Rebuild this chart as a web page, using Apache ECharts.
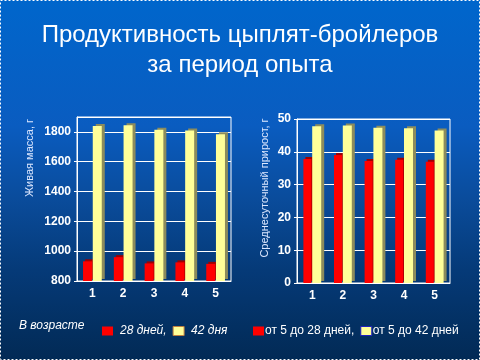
<!DOCTYPE html>
<html><head><meta charset="utf-8">
<script src="https://cdn.jsdelivr.net/npm/echarts@6/dist/echarts.min.js"></script>
<style>html,body{margin:0;padding:0;background:#0050a8}#c{width:480px;height:360px}</style>
</head><body><div id="c"></div>
<script>
var titleLines = ['Продуктивность цыплят-бройлеров', 'за период опыта'];
var groups = ['1', '2', '3', '4', '5'];
var massTicks = {min: 800, max: 1900, interval: 200};
var gainTicks = {min: 0, max: 50, interval: 10};
var mass28 = [932, 960, 918, 925, 915];
var mass42 = [1840, 1845, 1815, 1810, 1785];
var gain28 = [37.8, 39.0, 37.2, 37.6, 37.0];
var gain42 = [47.8, 48.0, 47.3, 47.2, 46.5];
var massName = 'Живая масса, г';
var gainName = 'Среднесуточный прирост, г';
var legendLead = 'В возрасте';
var leftNames = ['28 дней', '42 дня'];
var rightNames = ['от 5 до 28 дней', 'от 5 до 42 дней'];

var font = 'Arial, "Liberation Sans", sans-serif';
var RED = '#ff0000', YEL = '#ffff99';
function redStyle(){return {color: RED, shadowColor: '#a00000', shadowOffsetX: 2, shadowOffsetY: -2, shadowBlur: 0};}
function yelStyle(){return {color: YEL, shadowColor: '#8c8c5c', shadowOffsetX: 3, shadowOffsetY: -2, shadowBlur: 0};}
function plain(v){return String(v);}
var axisLab = {color: '#ffffff', fontFamily: font, fontWeight: 'bold', fontSize: 12};

var chart = echarts.init(document.getElementById('c'));
chart.setOption({
  backgroundColor: {type: 'linear', x: 0, y: 0, x2: 0, y2: 1, colorStops: [
    {offset: 0, color: '#0066cc'}, {offset: 0.35, color: '#0a5cc0'},
    {offset: 0.55, color: '#0a4c9c'}, {offset: 0.75, color: '#053a78'}, {offset: 1, color: '#022a55'}]},
  animation: false,
  title: [
    {text: titleLines[0], left: 'center', top: 18, textStyle: {color: '#ffffff', fontFamily: font, fontSize: 24, fontWeight: 'normal', textShadowColor: '#0a1a40', textShadowOffsetX: 2, textShadowOffsetY: 2, textShadowBlur: 0}},
    {text: titleLines[1], left: 'center', top: 48, textStyle: {color: '#ffffff', fontFamily: font, fontSize: 24, fontWeight: 'normal', textShadowColor: '#0a1a40', textShadowOffsetX: 2, textShadowOffsetY: 2, textShadowBlur: 0}}
  ],
  grid: [
    {left: 77, right: 249, top: 117, bottom: 79, show: true, borderColor: '#ffffff', borderWidth: 1},
    {left: 297, right: 30, top: 119, bottom: 77, show: true, borderColor: '#ffffff', borderWidth: 1}
  ],
  xAxis: [
    {type: 'category', gridIndex: 0, data: groups, axisTick: {show: false}, axisLine: {lineStyle: {color: '#ffffff'}}, axisLabel: Object.assign({margin: 7, fontSize: 13}, axisLab)},
    {type: 'category', gridIndex: 1, data: groups, axisTick: {show: false}, axisLine: {lineStyle: {color: '#ffffff'}}, axisLabel: Object.assign({margin: 7, fontSize: 13}, axisLab)}
  ],
  yAxis: [
    {type: 'value', gridIndex: 0, min: massTicks.min, max: massTicks.max, interval: massTicks.interval,
     axisLine: {show: true, lineStyle: {color: '#ffffff'}}, axisTick: {show: true, length: 3, lineStyle: {color: '#ffffff'}},
     splitLine: {lineStyle: {color: '#ffffff', width: 1}}, axisLabel: Object.assign({showMaxLabel: false, margin: 6, formatter: plain}, axisLab)},
    {type: 'value', gridIndex: 1, min: gainTicks.min, max: gainTicks.max, interval: gainTicks.interval,
     axisLine: {show: true, lineStyle: {color: '#ffffff'}}, axisTick: {show: true, length: 3, lineStyle: {color: '#ffffff'}},
     splitLine: {lineStyle: {color: '#ffffff', width: 1}}, axisLabel: Object.assign({margin: 6, formatter: plain}, axisLab)}
  ],
  legend: [
    {data: [{name: leftNames[0], itemStyle: {color: RED, borderWidth: 0}}, {name: leftNames[1], itemStyle: {color: YEL, borderColor: '#c08040', borderWidth: 1}}],
     left: 97, top: 320, icon: 'rect', itemWidth: 11, itemHeight: 9, itemGap: 6, itemStyle: {shadowBlur: 0, shadowOffsetX: 0, shadowOffsetY: 0},
     formatter: function(n){return n === leftNames[0] ? n + ',' : n;},
     textStyle: {color: '#ffffff', fontFamily: font, fontSize: 12, fontStyle: 'italic', padding: [0, 0, 0, 2]}},
    {data: [{name: rightNames[0], itemStyle: {color: RED, borderWidth: 0}}, {name: rightNames[1], itemStyle: {color: YEL, borderColor: '#2020c0', borderWidth: 1}}],
     left: 248, top: 320, icon: 'rect', itemWidth: 11, itemHeight: 9, itemGap: 6, itemStyle: {shadowBlur: 0, shadowOffsetX: 0, shadowOffsetY: 0},
     formatter: function(n){return n === rightNames[0] ? n + ',' : n;},
     textStyle: {color: '#ffffff', fontFamily: font, fontSize: 12, padding: [0, 0, 0, -4]}}
  ],
  series: [
    {name: leftNames[0], type: 'bar', xAxisIndex: 0, yAxisIndex: 0, data: mass28, barWidth: 9, barGap: '8%', itemStyle: redStyle()},
    {name: leftNames[1], type: 'bar', xAxisIndex: 0, yAxisIndex: 0, data: mass42, barWidth: 9, barGap: '8%', itemStyle: yelStyle()},
    {name: rightNames[0], type: 'bar', xAxisIndex: 1, yAxisIndex: 1, data: gain28, barWidth: 8, barGap: '10%', itemStyle: redStyle()},
    {name: rightNames[1], type: 'bar', xAxisIndex: 1, yAxisIndex: 1, data: gain42, barWidth: 9, barGap: '10%', itemStyle: yelStyle()}
  ],
  graphic: [
    {type: 'text', x: 30, y: 158, rotation: Math.PI / 2, style: {text: massName, fill: '#dde8ff', font: '11px ' + font, textAlign: 'center', textVerticalAlign: 'middle'}},
    {type: 'text', x: 265, y: 188, rotation: Math.PI / 2, style: {text: gainName, fill: '#dde8ff', font: '11px ' + font, textAlign: 'center', textVerticalAlign: 'middle'}},
    {type: 'text', x: 19, y: 326, style: {text: legendLead, fill: '#ffffff', font: 'italic 12px ' + font, textVerticalAlign: 'middle'}},
    {type: 'rect', shape: {x: 0.5, y: 0.5, width: 479, height: 359}, style: {fill: null, stroke: '#ffffff', lineWidth: 1, lineDash: [2, 2]}, silent: true}
  ]
});
</script></body></html>
